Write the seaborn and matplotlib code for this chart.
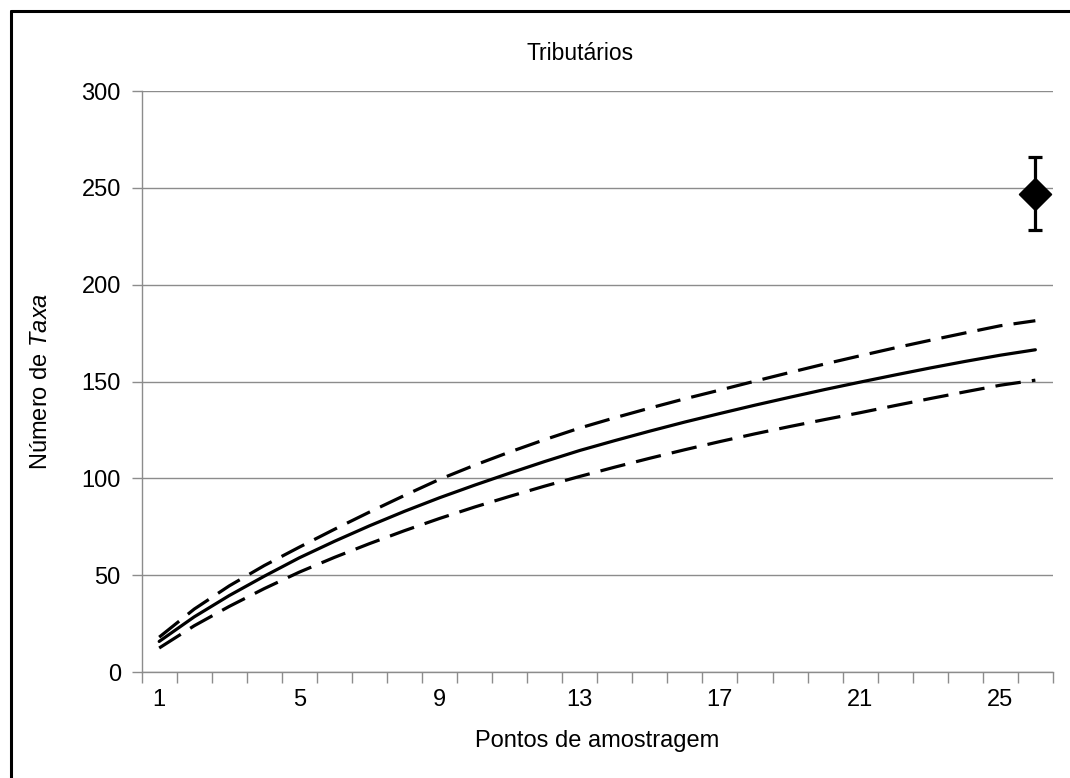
import numpy as np
import pandas as pd
import seaborn as sns
import matplotlib.pyplot as plt
from matplotlib.lines import Line2D
from matplotlib.ticker import FixedLocator

# rarefaction curve - tributarios
pontos = list(range(1, 27))
media = [15.8, 28.5, 39.5, 49.5, 59.0, 67.5, 75.5, 83.0, 90.0, 96.5, 102.7, 108.7, 114.4,
         119.5, 124.4, 129.1, 133.5, 137.8, 141.9, 145.9, 149.7, 153.4, 157.0, 160.4, 163.6, 166.4]
ic_sup = [18.0, 32.5, 44.5, 55.0, 64.5, 73.7, 82.6, 91.2, 99.5, 106.8, 113.6, 120.0, 126.0,
          131.3, 136.3, 141.1, 145.6, 150.2, 154.7, 159.1, 163.3, 167.4, 171.3, 175.1, 178.8, 181.4]
ic_inf = [12.4, 23.9, 33.9, 43.1, 51.6, 59.2, 66.3, 73.0, 79.3, 85.2, 90.7, 96.0, 101.0,
          105.8, 110.4, 114.8, 119.0, 123.0, 126.8, 130.4, 133.9, 137.6, 141.2, 144.7, 148.1, 150.7]

# estimador (diamante) na posicao 26
est_x = [26]
est_y = [246.6]
est_inf = [228.0]
est_sup = [266.0]

df = pd.DataFrame({"ponto": pontos, "media": media, "sup": ic_sup, "inf": ic_inf})

sns.set_theme(style="white")
plt.rcParams['font.family'] = ['Liberation Sans', 'DejaVu Sans']
plt.rcParams['mathtext.fontset'] = 'custom'
plt.rcParams['mathtext.rm'] = 'Liberation Sans'
plt.rcParams['mathtext.it'] = 'Liberation Sans:italic'

fig = plt.figure(figsize=(10.7, 7.78), dpi=100)
ax = fig.add_axes([0.1324, 0.1362, 0.8516, 0.7468])

grid_col = '#8c8c8c'
ax.set_ylim(0, 300)
ax.set_xlim(0.5, 26.5)
ax.set_yticks(range(0, 301, 50))
ax.yaxis.grid(True, color=grid_col, linewidth=1.0)
ax.set_axisbelow(True)

sns.lineplot(data=df, x="ponto", y="media", color='black', linewidth=2.3, ax=ax)
sns.lineplot(data=df, x="ponto", y="sup", color='black', linewidth=2.3, ax=ax)
sns.lineplot(data=df, x="ponto", y="inf", color='black', linewidth=2.3, ax=ax)
for ln in ax.lines[1:3]:
    ln.set_dashes((8, 3.5))

yerr = [[est_y[0] - est_inf[0]], [est_sup[0] - est_y[0]]]
ax.errorbar(est_x, est_y, yerr=yerr, fmt='none', ecolor='black', elinewidth=2.3,
            capsize=5, capthick=2.3, zorder=3)
sns.scatterplot(x=est_x, y=est_y, marker='D', s=260, color='black', edgecolor='black',
                ax=ax, zorder=4)

# excel-style category axis
ax.set_xticks([1, 5, 9, 13, 17, 21, 25])
ax.set_xticklabels(['1', '5', '9', '13', '17', '21', '25'])
ax.xaxis.set_minor_locator(FixedLocator(np.arange(0.5, 27, 1)))
ax.tick_params(axis='x', which='major', length=0, labelsize=17, pad=12, colors='black')
ax.tick_params(axis='x', which='minor', length=8, width=1.0, color=grid_col, direction='out',
               bottom=True)
ax.tick_params(axis='y', which='major', length=7, width=1.0, color=grid_col, direction='out',
               labelsize=17, pad=8, left=True)
for t in ax.get_yticklabels():
    t.set_color('black')

for s in ['top', 'right']:
    ax.spines[s].set_visible(False)
for s in ['left', 'bottom']:
    ax.spines[s].set_color(grid_col)
    ax.spines[s].set_linewidth(1.0)

ax.set_xlabel("Pontos de amostragem", fontsize=17, labelpad=14, color='black')
ax.set_ylabel(r"Número de $\it{Taxa}$", fontsize=17, labelpad=21, color='black')
ax.set_title("Tributários", fontsize=16.5, pad=22, color='black', x=0.481)

# figure frame (left and top visible)
fig.add_artist(Line2D([10.5 / 1070, 10.5 / 1070], [0, 1 - 10.5 / 778], color='black', lw=2.2,
                      transform=fig.transFigure))
fig.add_artist(Line2D([10.5 / 1070, 1], [1 - 10.5 / 778, 1 - 10.5 / 778], color='black', lw=2.2,
                      transform=fig.transFigure))

fig.savefig("out.png", dpi=100)
